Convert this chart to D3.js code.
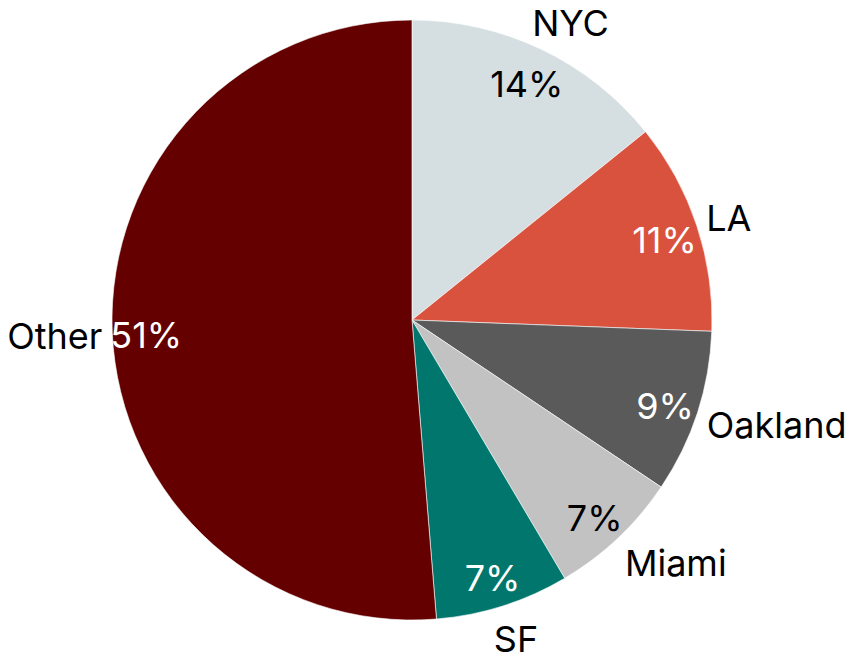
<!DOCTYPE html>
<html>
<head>
<meta charset="utf-8">
<script src="https://cdn.jsdelivr.net/npm/d3@7"></script>
<style>
  html, body { margin: 0; padding: 0; background: #fff; }
  svg { display: block; font-family: Inter, "Noto Sans", sans-serif; }
</style>
</head>
<body>
<svg id="chart"></svg>
<script>
// city share of total (percent)
const cities = ['NYC', 'LA', 'Oakland', 'Miami', 'SF', 'Other'];
const shares = [14.2, 11.4, 8.8, 7.1, 7.2, 51.3];
const colors = ['#d5dfe2', '#d9523e', '#5a5a5a', '#c2c2c2', '#00766d', '#640000'];
const pctColors = ['#000', '#fff', '#fff', '#000', '#fff', '#fff'];

const width = 856, height = 660;
const cx = 412, cy = 320, radius = 300;
const fontSize = 36;

const svg = d3.select('#chart')
  .attr('width', width)
  .attr('height', height);

const slices = cities.map((c, i) => ({ city: c, value: shares[i], i }));

const pie = d3.pie()
  .sort(null)
  .value(d => d.value);

const arc = d3.arc()
  .innerRadius(0)
  .outerRadius(radius);

const arcs = pie(slices);

const g = svg.append('g')
  .attr('transform', `translate(${cx},${cy})`);

g.selectAll('path')
  .data(arcs)
  .enter().append('path')
  .attr('d', arc)
  .attr('fill', d => colors[d.data.i])
  .attr('stroke', '#fff')
  .attr('stroke-width', 0.6);

// percentage labels inside, near the rim
const pctArc = d3.arc().innerRadius(266).outerRadius(266);
g.selectAll('text.pct')
  .data(arcs)
  .enter().append('text')
  .attr('class', 'pct')
  .attr('transform', d => `translate(${pctArc.centroid(d)})`)
  .attr('text-anchor', 'middle')
  .attr('dy', '0.48em')
  .attr('font-size', fontSize)
  .attr('fill', d => pctColors[d.data.i])
  .text(d => Math.round(d.data.value) + '%');

// category labels outside the pie
const names = g.selectAll('text.name')
  .data(arcs)
  .enter().append('text')
  .attr('class', 'name')
  .attr('text-anchor', 'middle')
  .attr('dy', '0.42em')
  .attr('font-size', fontSize)
  .attr('fill', '#000')
  .text(d => d.data.city);

names.each(function (d) {
  const mid = (d.startAngle + d.endAngle) / 2;
  const s = Math.sin(mid), c = Math.cos(mid);
  const r = radius + 10;
  const w = this.getComputedTextLength();
  const x = r * s + Math.sign(s) * (w / 2) * Math.min(1, 1.5 * Math.abs(s));
  const y = -r * c - c * 22;
  d3.select(this).attr('x', x).attr('y', y);
});
</script>
</body>
</html>
